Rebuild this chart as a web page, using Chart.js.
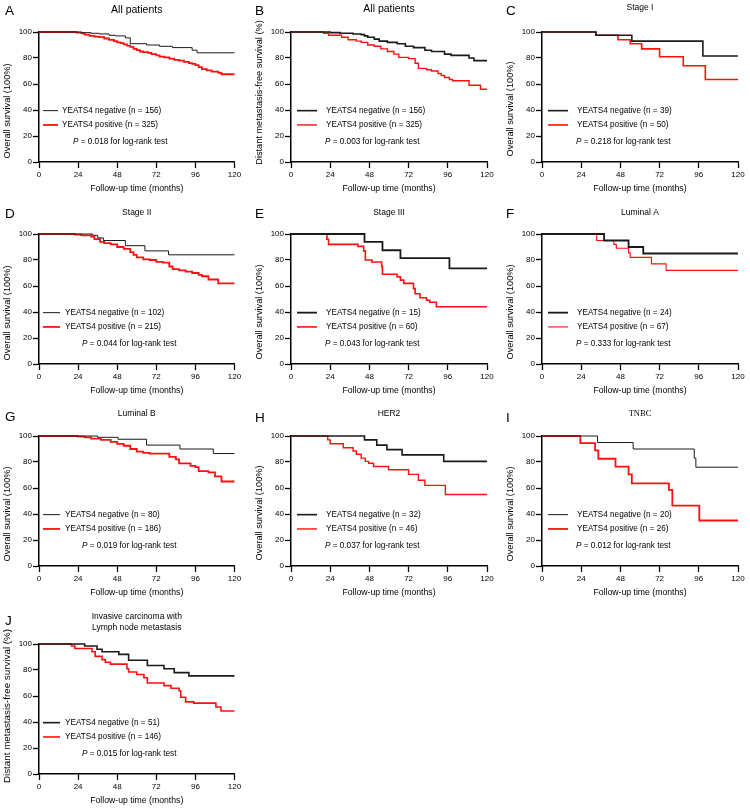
<!DOCTYPE html>
<html>
<head>
<meta charset="utf-8">
<script src="https://cdn.jsdelivr.net/npm/chart.js@4.4.0/dist/chart.umd.min.js"></script>
<style>
  html, body { margin: 0; padding: 0; background: #fff; width: 750px; height: 809px; overflow: hidden; position: relative; }
  canvas { position: absolute; }
</style>
</head>
<body>
<script>
// ---- data ----
const xTicks = [0, 24, 48, 72, 96, 120];
const yTicks = [0, 20, 40, 60, 80, 100];
const xTitle = 'Follow-up time (months)';
const letters = ['A', 'B', 'C', 'D', 'E', 'F', 'G', 'H', 'I', 'J'];
const titles = [
    ['All patients'], ['All patients'], ['Stage I'],
    ['Stage II'], ['Stage III'], ['Luminal A'],
    ['Luminal B'], ['HER2'], ['TNBC'],
    ['Invasive carcinoma with', 'Lymph node metastasis']
];
const yTitles = [
    'Overall survival (100%)', 'Distant metastasis-free survival (%)', 'Overall survival (100%)',
    'Overall survival (100%)', 'Overall survival (100%)', 'Overall survival (100%)',
    'Overall survival (100%)', 'Overall survival (100%)', 'Overall survival (100%)',
    'Distant metastasis-free survival (%)'
];
const negN = [156, 156, 39, 102, 15, 24, 80, 32, 20, 51];
const posN = [325, 325, 50, 215, 60, 67, 186, 46, 26, 146];
const pValues = ['0.018', '0.003', '0.218', '0.044', '0.043', '0.333', '0.019', '0.037', '0.012', '0.015'];

// survival curves: [month, survival %]
const negA = [[0,100],[26,99.5],[32,99],[37,98.5],[43,97.5],[47,97],[53,95.5],[56,91],[66,90],[74,89],[82,88],[94,86],[97,84],[120,84]];
const posA = [[0,100],[23,99.5],[26,99],[28,98],[31,97],[34,96.5],[37,96],[40,95],[43,94],[46,93],[48,92],[50,91.5],[52,90.5],[54,89.5],[56,88.5],[58,87],[60,86],[62,85],[64,84.5],[67,84],[69,83],[72,82],[74,81],[77,80.5],[80,79.5],[83,78.5],[86,78],[89,77],[92,76],[94,75.5],[96,74.5],[98,73],[100,71.5],[103,70.5],[106,69.5],[110,68.5],[112,67.5],[120,67.5]];
const negB = [[0,100],[24,99.5],[30,99],[38,98.5],[43,98],[45,97],[47,96],[51,94.5],[54,93],[59,92],[65,91],[70,89],[75,88],[82,86],[86,85],[94,83],[98,82],[109,80],[112,78],[120,78]];
const posB = [[0,100],[20,99],[23,97.5],[31,96],[35,94],[40,93],[43,92],[47,90],[51,89],[55,87],[59,85],[63,83],[66,80.5],[72,79.5],[76,76],[78,72],[83,71],[86,70],[90,68],[92,66.5],[94,65],[97,63.5],[99,62.5],[109,59],[116,56],[120,56]];
const negC = [[0,100],[33,97.5],[55,93],[98.5,81.5],[120,81.5]];
const posC = [[0,100],[33,97.5],[46.5,94],[54,91],[61,87],[72,81],[86.5,74],[100,63.5],[120,63.5]];
const negD = [[0,100],[33,99],[36,97],[39.5,95],[53,91],[65,87],[79.5,84],[120,84]];
const posD = [[0,100],[22,99.5],[26,99],[32,98],[34,96],[37.5,94],[40,93],[44,92],[48,90],[52,88.5],[56,86],[58,84],[60,82],[64,80.5],[68,80],[72,78.5],[76,78],[80,75],[82,73],[86,72],[90,71],[94,70],[98,68.5],[100,67.5],[104,65],[110,62],[120,62]];
const negE = [[0,100],[45,94],[56,87.5],[67,81.5],[97,73.5],[120,73.5]];
const posE = [[0,100],[22,96],[23,92],[41,90.5],[44.5,87],[45.5,80],[49.5,78.5],[55.5,75],[56,69],[65,67],[67,64.5],[69,62],[75,58],[76,54],[79,51],[83,49],[85,47.5],[89,44],[120,44]];
const negF = [[0,100],[38,95],[53,90],[62,85],[120,85]];
const posF = [[0,100],[33.5,95],[44,92],[45.5,89],[53,85.5],[54,82],[67,77],[76,72],[120,72]];
const negG = [[0,100],[36,99],[48.5,97.5],[66,93],[86.5,90],[107,86.5],[120,86.5]];
const posG = [[0,100],[24,99.5],[28,99],[32,98],[38,97],[44,95.5],[48,94],[52,92.5],[56,90],[60,88],[64,87],[68,86.5],[80,84],[84,82],[86,79],[93,77],[96,76],[98,73],[104,72],[108,69],[112,65],[120,65]];
const negH = [[0,100],[45,97],[52.5,93],[58.7,89.5],[68,85.5],[93.5,80.5],[120,80.5]];
const posH = [[0,100],[22.5,97],[24,94],[32,91],[38,88.5],[40,86],[43,83],[45.5,80.5],[47.5,79],[50.5,76.5],[59.7,74],[72,70.5],[78,66],[82,62],[94.5,55],[120,55]];
const negI = [[0,100],[34,95],[55.8,90],[93.2,83],[94.2,76],[120,76]];
const posI = [[0,100],[23.5,94.5],[32.5,89],[34.5,82.5],[45,76.5],[53,70.5],[55,63.5],[77.7,58.5],[79.8,46.5],[96.3,35],[120,35]];
const negJ = [[0,100],[28,98.5],[35.6,96],[38.7,94],[49,92],[55,87.5],[66.5,83.5],[76.7,81],[83,78],[92,75.5],[120,75.5]];
const posJ = [[0,100],[20,98.5],[22,96.5],[32.5,94],[34.5,90.5],[38.7,88],[40.7,86],[43.8,84.5],[54,81],[55,78.5],[60,76.5],[64.4,74],[66.5,70],[76.7,68],[81,66],[86,64],[87,59],[90,55.5],[95,54.5],[108.6,51.5],[111.7,48.5],[120,48.5]];

const negCurves = [negA, negB, negC, negD, negE, negF, negG, negH, negI, negJ];
const posCurves = [posA, posB, posC, posD, posE, posF, posG, posH, posI, posJ];

// ---- layout ----
const FONT = '"Liberation Sans", Arial, sans-serif';
const colX = [0, 251, 502];
const colW = [250, 250, 248];
const colLeft = [39, 40, 40];
const colRight = [234.5, 236, 236];
const rowY = [0, 202, 404, 612];

// legend placements relative to the plot's left edge
const legendStyles = {
    g1: { l1: 4, l2: 19, tx: 23, px: 34 },
    g2: { l1: 4, l2: 21, tx: 26, px: 43 },
    g3: { l1: 6, l2: 26, tx: 35, px: 34 }
};

const panels = [
    { col: 0, row: 0, legend: 'g1', negW: 1,   posW: 1.8, titleSize: 10.5, titleY: 10,  letterY: 15, yOff: 14,   ySize: 9.2 },
    { col: 1, row: 0, legend: 'g3', negW: 1.6, posW: 1.4, titleSize: 10.5, titleY: 9.5, letterY: 15, yOff: -4.5, ySize: 9.2 },
    { col: 2, row: 0, legend: 'g3', negW: 1.6, posW: 1.6, titleSize: 8.5,  titleY: 7.5, letterY: 15, yOff: 12,   ySize: 9.2 },
    { col: 0, row: 1, legend: 'g2', negW: 1,   posW: 1.8, titleSize: 8.5,  titleY: 11,  letterY: 16, yOff: 14,   ySize: 9.2 },
    { col: 1, row: 1, legend: 'g3', negW: 1.8, posW: 1.6, titleSize: 8.5,  titleY: 11,  letterY: 16, yOff: 13,   ySize: 9.2 },
    { col: 2, row: 1, legend: 'g3', negW: 1.8, posW: 1.1, titleSize: 8.5,  titleY: 11,  letterY: 16, yOff: 13,   ySize: 9.2 },
    { col: 0, row: 2, legend: 'g2', negW: 1,   posW: 1.8, titleSize: 8.5,  titleY: 10,  letterY: 17, yOff: 13,   ySize: 9.2 },
    { col: 1, row: 2, legend: 'g3', negW: 1.6, posW: 1.4, titleSize: 8.5,  titleY: 10,  letterY: 18, yOff: 12,   ySize: 9.2 },
    { col: 2, row: 2, legend: 'g3', negW: 1,   posW: 1.8, titleSize: 8.5,  titleY: 10,  letterY: 18, yOff: 13,   ySize: 9.2, serif: true },
    { col: 0, row: 3, legend: 'g2', negW: 1.6, posW: 1.6, titleSize: 8.5,  titleY: 4.5, letterY: 13, yOff: -3,   ySize: 9.8 }
];

function textPlugin(i) {
    const P = panels[i];
    const g = legendStyles[P.legend];
    return {
        id: 'panelText' + i,
        afterDraw(chart) {
            const ctx = chart.ctx;
            const a = chart.chartArea;
            const ys = chart.scales.y;
            const cx = (a.left + a.right) / 2;
            const cy = (a.top + a.bottom) / 2;
            ctx.save();
            ctx.fillStyle = '#000';

            // panel letter
            ctx.font = '13.5px ' + FONT;
            ctx.textAlign = 'left';
            ctx.textBaseline = 'alphabetic';
            ctx.fillText(letters[i], P.col === 0 ? 5 : 4, P.letterY);

            // panel title
            ctx.font = P.titleSize + 'px ' + (P.serif ? '"Liberation Serif", serif' : FONT);
            ctx.textAlign = 'center';
            ctx.textBaseline = 'middle';
            titles[i].forEach((t, k) => ctx.fillText(t, cx, P.titleY + k * 11.5));

            // x axis title
            ctx.font = '8.7px ' + FONT;
            ctx.fillText(xTitle, cx, a.bottom + 27);

            // y axis title
            ctx.save();
            ctx.translate(a.left - 32, cy + P.yOff);
            ctx.rotate(-Math.PI / 2);
            ctx.font = P.ySize + 'px ' + FONT;
            ctx.fillText(yTitles[i], 0, 0);
            ctx.restore();

            // legend
            const rows = [
                { v: 39.5, color: '#1a1a1a', w: P.negW, text: 'YEATS4 negative (n = ' + negN[i] + ')' },
                { v: 28.5, color: '#ff1010', w: P.posW, text: 'YEATS4 positive (n = ' + posN[i] + ')' }
            ];
            ctx.font = '8.2px ' + FONT;
            ctx.textAlign = 'left';
            rows.forEach(r => {
                const y = ys.getPixelForValue(r.v);
                ctx.strokeStyle = r.color;
                ctx.lineWidth = r.w;
                ctx.beginPath();
                ctx.moveTo(a.left + g.l1, y);
                ctx.lineTo(a.left + g.l2, y);
                ctx.stroke();
                ctx.fillText(r.text, a.left + g.tx, y);
            });

            // p value
            const py = ys.getPixelForValue(15.7);
            ctx.font = 'italic 8.2px ' + FONT;
            ctx.fillText('P', a.left + g.px, py);
            const pw = ctx.measureText('P').width;
            ctx.font = '8.2px ' + FONT;
            ctx.fillText(' = ' + pValues[i] + ' for log-rank test', a.left + g.px + pw, py);

            ctx.restore();
        }
    };
}

function axisOptions(ticks, min, max, isX) {
    return {
        type: 'linear',
        min: min,
        max: max,
        afterBuildTicks: scale => { scale.ticks = ticks.map(v => ({ value: v })); },
        grid: { drawOnChartArea: false, drawTicks: true, tickLength: 6, tickColor: '#000', tickWidth: 1.3 },
        border: { display: true, color: '#000', width: 1.5 },
        ticks: {
            font: { family: FONT, size: 8 },
            color: '#000',
            padding: isX ? 2 : 1,
            maxRotation: 0,
            autoSkip: false
        }
    };
}

function makePanel(i) {
    const P = panels[i];
    const w = colW[P.col];
    const canvas = document.createElement('canvas');
    canvas.width = w;
    canvas.height = 200;
    canvas.style.left = colX[P.col] + 'px';
    canvas.style.top = rowY[P.row] + 'px';
    document.body.appendChild(canvas);

    const xOpts = axisOptions(xTicks, 0, 120, true);
    xOpts.afterFit = scale => { scale.height = 38; };
    const yOpts = axisOptions(yTicks, 0, 100, false);
    yOpts.afterFit = scale => { scale.width = colLeft[P.col]; };

    new Chart(canvas, {
        type: 'line',
        data: {
            datasets: [
                {
                    label: 'YEATS4 negative',
                    data: negCurves[i].map(p => ({ x: p[0], y: p[1] })),
                    borderColor: '#1a1a1a',
                    borderWidth: P.negW,
                    stepped: 'before',
                    pointRadius: 0,
                    fill: false,
                    clip: false
                },
                {
                    label: 'YEATS4 positive',
                    data: posCurves[i].map(p => ({ x: p[0], y: p[1] })),
                    borderColor: '#ff1010',
                    borderWidth: P.posW,
                    stepped: 'before',
                    pointRadius: 0,
                    fill: false,
                    clip: false
                }
            ]
        },
        options: {
            responsive: false,
            animation: false,
            layout: { padding: { top: 32, left: 0, right: w - colRight[P.col], bottom: 0 } },
            plugins: { legend: { display: false }, tooltip: { enabled: false } },
            scales: { x: xOpts, y: yOpts }
        },
        plugins: [textPlugin(i)]
    });
}

panels.forEach((p, i) => makePanel(i));
</script>
</body>
</html>
